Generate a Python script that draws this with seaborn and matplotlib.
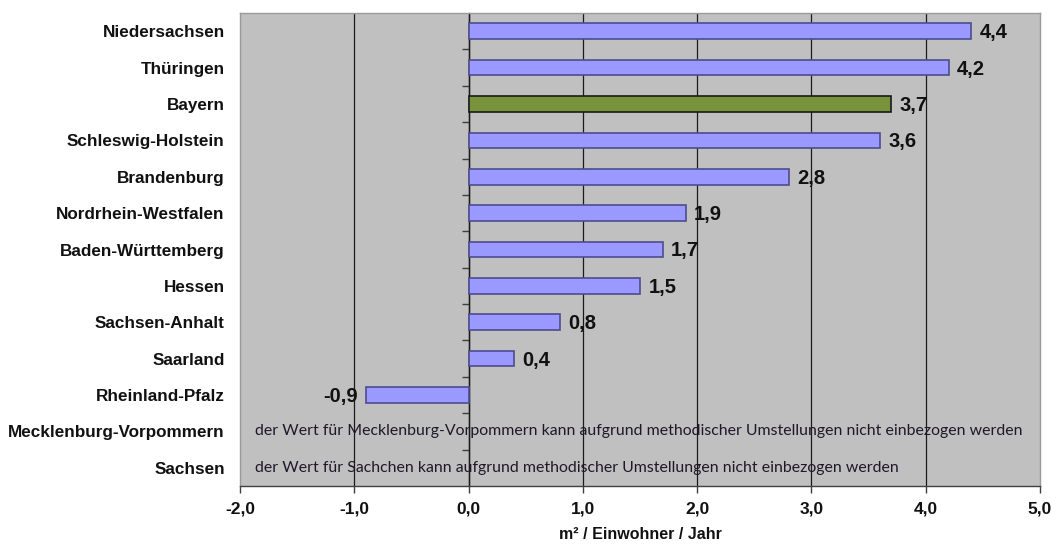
import numpy as np
import pandas as pd
import matplotlib
matplotlib.use("Agg")
import matplotlib.pyplot as plt
import matplotlib.transforms as mtransforms
from matplotlib.ticker import FixedLocator, FuncFormatter
import seaborn as sns

# Flächenverbrauch je Einwohner und Jahr nach Bundesland
laender = [
    "Niedersachsen", "Thüringen", "Bayern", "Schleswig-Holstein", "Brandenburg",
    "Nordrhein-Westfalen", "Baden-Württemberg", "Hessen", "Sachsen-Anhalt",
    "Saarland", "Rheinland-Pfalz", "Mecklenburg-Vorpommern", "Sachsen",
]
werte = [4.4, 4.2, 3.7, 3.6, 2.8, 1.9, 1.7, 1.5, 0.8, 0.4, -0.9, np.nan, np.nan]
hinweise = {
    "Mecklenburg-Vorpommern": "der Wert für Mecklenburg-Vorpommern kann aufgrund methodischer Umstellungen nicht einbezogen werden",
    "Sachsen": "der Wert für Sachchen kann aufgrund methodischer Umstellungen nicht einbezogen werden",
}
hervorgehoben = "Bayern"
x_ticks = [-2, -1, 0, 1, 2, 3, 4, 5]
x_label = "m² / Einwohner / Jahr"

farbe_standard = "#9999FF"
rand_standard = "#4D4D8F"
farbe_bayern = "#77933C"
rand_bayern = "#1A1A1A"
textfarbe = "#111111"

df = pd.DataFrame({"Land": laender, "Wert": werte})

sns.set_theme(style="white")
plt.rcParams["font.family"] = ["Liberation Sans", "DejaVu Sans"]
plt.rcParams["text.color"] = textfarbe
plt.rcParams["xtick.color"] = textfarbe
plt.rcParams["ytick.color"] = textfarbe
plt.rcParams["axes.labelcolor"] = textfarbe

fig = plt.figure(figsize=(10.56, 5.45), dpi=100)
ax = fig.add_axes([0.2273, 0.1083, 0.7575, 0.8677])
ax.set_facecolor("#C0C0C0")

palette = {l: (farbe_bayern if l == hervorgehoben else farbe_standard) for l in laender}
sns.barplot(data=df, x="Wert", y="Land", hue="Land", palette=palette, order=laender,
            hue_order=laender, legend=False, width=0.43, orient="h",
            saturation=1.0, linewidth=1.2, edgecolor=rand_standard, ax=ax, zorder=3)

for patch, land in zip(ax.patches, [l for l, w in zip(laender, werte) if not np.isnan(w)]):
    if land == hervorgehoben:
        patch.set_edgecolor(rand_bayern)

ax.set_xlim(x_ticks[0], x_ticks[-1])
ax.set_ylim(len(laender) - 0.5, -0.5)

# vertical gridlines
for xv in x_ticks[1:-1]:
    ax.axvline(xv, color="#1A1A1A", linewidth=0.9, zorder=1)

# value labels
for i, (land, w) in enumerate(zip(laender, werte)):
    if np.isnan(w):
        continue
    txt = f"{w:.1f}".replace(".", ",")
    ax.annotate(txt, xy=(w, i), xytext=(6 if w >= 0 else -6, -1),
                textcoords="offset points", ha="left" if w >= 0 else "right",
                va="center", fontsize=14.5, fontweight="bold", color=textfarbe, zorder=4)

# notes for missing values
trans = mtransforms.blended_transform_factory(ax.transAxes, ax.transData)
for land, text in hinweise.items():
    i = laender.index(land)
    ax.annotate(text, xy=(0, i), xycoords=trans, xytext=(11, 0),
                textcoords="offset points", ha="left", va="center",
                fontsize=11.4, family=["Lato", "DejaVu Sans"], color="#1E1828", zorder=4)

# x axis
ax.set_xticks(x_ticks)
ax.xaxis.set_major_formatter(FuncFormatter(lambda v, p: f"{v:.1f}".replace(".", ",")))
ax.tick_params(axis="x", bottom=True, direction="out", length=5, width=1, color="#404040",
               labelsize=12.5, pad=6)
for lab in ax.get_xticklabels():
    lab.set_fontweight("bold")
ax.set_xlabel(x_label, fontsize=11.5, fontweight="bold", labelpad=8)

# y axis labels
ax.set_ylabel("")
ax.tick_params(axis="y", left=False, length=0, labelsize=12.3, pad=11)
for lab in ax.get_yticklabels():
    lab.set_fontweight("bold")

for s in ["top", "right", "left"]:
    ax.spines[s].set_color("#9A9A9A")
    ax.spines[s].set_linewidth(1)
ax.spines["bottom"].set_color("#404040")
ax.spines["bottom"].set_linewidth(1)

# category axis at x = 0 with boundary ticks
sec = ax.secondary_yaxis(location=-x_ticks[0] / (x_ticks[-1] - x_ticks[0]))
sec.yaxis.set_major_locator(FixedLocator(np.arange(0.5, len(laender) - 1, 1.0)))
sec.tick_params(axis="y", direction="out", length=5, width=1, color="#404040", labelleft=False)
sec.spines["left"].set_color("#1A1A1A")
sec.spines["left"].set_linewidth(1)
sec.set_yticklabels([])

fig.savefig("out.png", dpi=100)
